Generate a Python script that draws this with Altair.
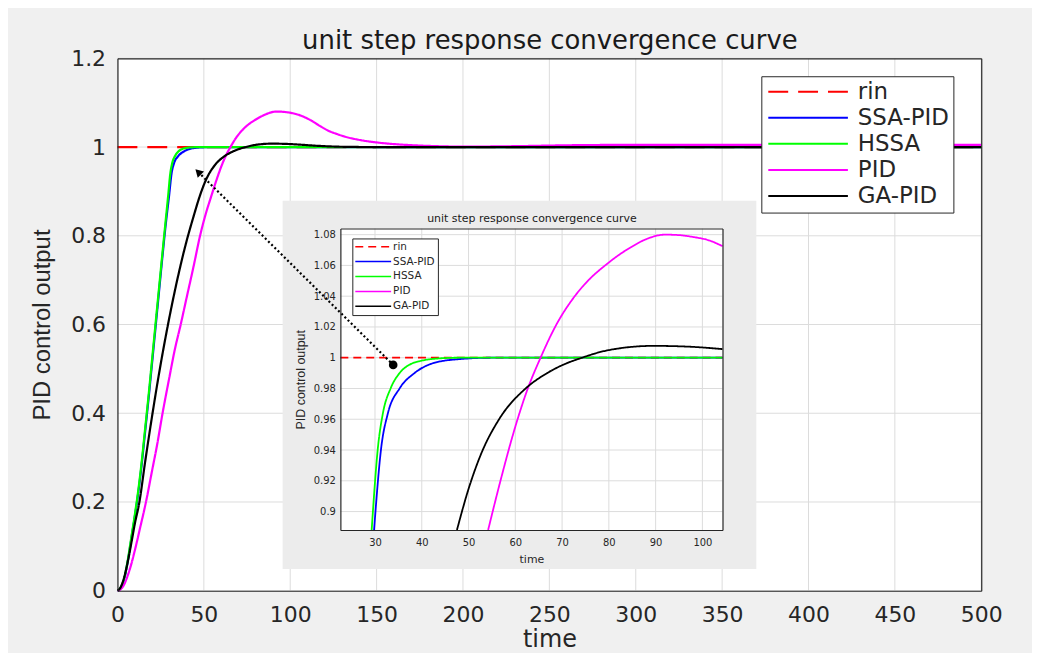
import altair as alt
import pandas as pd

# ---------------- data ----------------
series_order = ["rin", "SSA-PID", "HSSA", "PID", "GA-PID"]
series_colors = ["#ff0000", "#0000ff", "#00ff00", "#ff00ff", "#000000"]

rin_t = [0, 500]
rin_y = [1.0, 1.0]

ssa_t = [0, 2, 4, 6, 8, 10, 12, 14, 16, 18, 20, 22, 24, 26, 28, 29.8, 31.35, 32.77,
         35.25, 38.44, 41.98, 47.6, 55, 105, 500]
ssa_y = [0, 0.007, 0.028, 0.067, 0.116, 0.166, 0.22, 0.284, 0.358, 0.433, 0.512, 0.592,
         0.672, 0.752, 0.828, 0.888, 0.942, 0.964, 0.98, 0.99, 0.996, 0.999, 1.0, 1.0, 1.0]

hssa_t = [0, 2, 4, 6, 8, 10, 12, 14, 16, 18, 20, 22, 24, 26, 28, 29.29, 30.64, 31.7,
          33.33, 35.25, 37.73, 39.86, 43.4, 48, 105, 500]
hssa_y = [0, 0.008, 0.03, 0.07, 0.12, 0.17, 0.225, 0.29, 0.365, 0.44, 0.52, 0.6, 0.68,
          0.76, 0.838, 0.888, 0.942, 0.964, 0.98, 0.99, 0.996, 0.998, 0.9995, 1.0, 1.0, 1.0]

pid_t = [0, 2, 4, 6, 8, 10, 13, 16.5, 20, 23, 26.1, 30, 33, 36.6, 40, 44, 47.8, 51, 54.19,
         56.74, 60.28, 62.55, 65.4, 68.58, 72.84, 76, 79.22, 82, 84.54, 88.09, 91.99, 95,
         98, 101.5, 105, 112.5, 117, 122, 127, 131.7, 141, 151, 160, 170, 185, 200, 230,
         260, 300, 500]
pid_y = [0, 0.004, 0.015, 0.035, 0.06, 0.09, 0.14, 0.2, 0.27, 0.33, 0.4, 0.48, 0.54, 0.6,
         0.66, 0.73, 0.8, 0.848, 0.888, 0.919, 0.958, 0.979, 1.0, 1.0204, 1.0405, 1.0515,
         1.06, 1.0665, 1.0715, 1.0772, 1.08, 1.0797, 1.0785, 1.0762, 1.0725, 1.059, 1.048,
         1.037, 1.0295, 1.0235, 1.0155, 1.01, 1.0067, 1.0043, 1.002, 1.001, 1.002, 1.004,
         1.005, 1.005]

ga_t = [0, 2, 4, 6, 8, 10, 12.7, 16, 20.3, 24, 29, 34, 40, 44, 47.52, 49.93, 52.62, 56.53,
        62.2, 66.8, 71.06, 73.5, 79.57, 89.5, 97, 105, 115, 125, 140, 160, 500]
ga_y = [0, 0.009, 0.032, 0.066, 0.107, 0.15, 0.2, 0.29, 0.4, 0.488, 0.595, 0.69, 0.788,
        0.843, 0.888, 0.914, 0.937, 0.96, 0.98, 0.99, 0.9965, 0.9992, 1.0047, 1.0077,
        1.0072, 1.0056, 1.003, 1.0012, 1.0002, 1.0, 1.0]

main_x_ticks = [0, 50, 100, 150, 200, 250, 300, 350, 400, 450, 500]
main_y_ticks = [0, 0.2, 0.4, 0.6, 0.8, 1.0, 1.2]
inset_x_ticks = [30, 40, 50, 60, 70, 80, 90, 100]
inset_y_ticks = [0.9, 0.92, 0.94, 0.96, 0.98, 1.0, 1.02, 1.04, 1.06, 1.08]

# annotation arrow (main-axes coordinates): from the inset dot to the arrow head
arrow_t = [159.6, 46.7]
arrow_y = [0.509, 0.944]

# ---------------- layout ----------------
W, H = 1029, 645
MAIN_XD, MAIN_YD = [0, 500], [0, 1.2]
INS_XD, INS_YD = [22.6, 104.3], [0.888, 1.084]
MX, MY = [110, 978], [584, 49]          # main plot area (px in view)
IX, IY = [334, 718], [523, 220]         # inset plot area (px in view)
INSET_BOX = {"x0": 95.6, "x1": 369.8, "y0": 0.049, "y1": 0.879}  # main-axes coords

FONT_H = "DejaVu Sans"
FONT_V = "Liberation Sans"
TXT = "#262626"
GRID = "#dcdcdc"

mxs = alt.Scale(domain=MAIN_XD, range=MX, nice=False, zero=False)
mys = alt.Scale(domain=MAIN_YD, range=MY, nice=False, zero=False)
ixs = alt.Scale(domain=INS_XD, range=IX, nice=False, zero=False, clamp=True)
iys = alt.Scale(domain=INS_YD, range=IY, nice=False, zero=False, clamp=True)

rows = []
for name, ts, ys in zip(series_order,
                        [rin_t, ssa_t, hssa_t, pid_t, ga_t],
                        [rin_y, ssa_y, hssa_y, pid_y, ga_y]):
    for t, v in zip(ts, ys):
        rows.append({"series": name, "t": t, "value": v})
curves = pd.DataFrame(rows)


def frame_axis(orient, offset, title=None, **kw):
    return alt.Axis(orient=orient, offset=offset, labels=False, ticks=False, grid=False,
                    domainColor=TXT, domainWidth=1.2, title=title, zindex=1, **kw)


# ---------------- main axes ----------------
main_bg = alt.Chart(pd.DataFrame({"x0": [MAIN_XD[0]], "x1": [MAIN_XD[1]],
                                  "y0": [MAIN_YD[0]], "y1": [MAIN_YD[1]]})).mark_rect(
    fill="white").encode(
    x=alt.X("x0:Q", scale=mxs, axis=alt.Axis(
        orient="bottom", offset=-(H - MY[0]), values=main_x_ticks, format="d",
        ticks=False, grid=False, domainColor=TXT, domainWidth=1.2,
        labelFont=FONT_H, labelFontSize=22, labelColor=TXT, labelPadding=14,
        labelFlush=False, labelOverlap=False,
        title="time", titleFont=FONT_H, titleFontSize=24, titleFontWeight="normal",
        titleColor=TXT, titlePadding=2, zindex=1)),
    x2="x1:Q",
    y=alt.Y("y0:Q", scale=mys, axis=alt.Axis(
        orient="left", offset=-MX[0], values=main_y_ticks, format="~g",
        ticks=False, grid=False, domainColor=TXT, domainWidth=1.2,
        labelFont=FONT_H, labelFontSize=22, labelColor=TXT, labelPadding=12,
        labelFlush=False, labelOverlap=False,
        title="PID control output", titleFont=FONT_V, titleFontSize=24,
        titleFontWeight="normal", titleColor=TXT, titlePadding=16, zindex=1)),
    y2="y1:Q",
)

main_gx = alt.Chart(pd.DataFrame({"t": main_x_ticks, "lo": MAIN_YD[0], "hi": MAIN_YD[1]})).mark_rule(
    color=GRID, strokeWidth=1).encode(
    x=alt.X("t:Q", scale=mxs, axis=frame_axis(
        "top", -MY[1], title="unit step response convergence curve",
        titleFont=FONT_H, titleFontSize=26, titleFontWeight="normal",
        titleColor="#1a1a1a", titlePadding=5)),
    y=alt.Y("lo:Q", scale=mys, axis=None),
    y2="hi:Q",
)

main_gy = alt.Chart(pd.DataFrame({"v": main_y_ticks, "lo": MAIN_XD[0], "hi": MAIN_XD[1]})).mark_rule(
    color=GRID, strokeWidth=1).encode(
    y=alt.Y("v:Q", scale=mys, axis=frame_axis("right", -(W - MX[1]))),
    x=alt.X("lo:Q", scale=mxs, axis=None),
    x2="hi:Q",
)

main_legend = alt.Legend(
    orient="none", legendX=757, legendY=67, title=None,
    symbolType="M-5,0L5,0", symbolSize=256, symbolStrokeWidth=2,
    symbolOffset=31.5, labelOffset=38.5, labelFont=FONT_H, labelFontSize=23,
    labelColor=TXT, labelLimit=400, padding=4, rowPadding=2.2,
    strokeColor=TXT, fillColor="white", cornerRadius=0)

main_lines = alt.Chart(curves).mark_line(strokeWidth=2.2, interpolate="monotone").encode(
    x=alt.X("t:Q", scale=mxs, axis=None),
    y=alt.Y("value:Q", scale=mys, axis=None),
    color=alt.Color("series:N", scale=alt.Scale(domain=series_order, range=series_colors),
                    legend=main_legend),
    strokeDash=alt.StrokeDash("series:N", scale=alt.Scale(
        domain=series_order, range=[[20, 10], [1, 0], [1, 0], [1, 0], [1, 0]]),
        legend=main_legend),
)

# ---------------- inset ----------------
inset_bg = alt.Chart(pd.DataFrame([INSET_BOX])).mark_rect(fill="#ececec").encode(
    x=alt.X("x0:Q", scale=mxs, axis=None), x2="x1:Q",
    y=alt.Y("y0:Q", scale=mys, axis=None), y2="y1:Q",
)

inset_white = alt.Chart(pd.DataFrame({"x0": [INS_XD[0]], "x1": [INS_XD[1]],
                                      "y0": [INS_YD[0]], "y1": [INS_YD[1]]})).mark_rect(
    fill="white").encode(
    x=alt.X("x0:Q", scale=ixs, axis=alt.Axis(
        orient="bottom", offset=-(H - IY[0]), values=inset_x_ticks, format="d",
        ticks=False, grid=False, domainColor=TXT, domainWidth=1.2,
        labelFont=FONT_H, labelFontSize=10, labelColor=TXT, labelPadding=8,
        labelFlush=False, labelOverlap=False,
        title="time", titleFont=FONT_H, titleFontSize=11, titleFontWeight="normal",
        titleColor=TXT, titlePadding=6, zindex=1)),
    x2="x1:Q",
    y=alt.Y("y0:Q", scale=iys, axis=alt.Axis(
        orient="left", offset=-IX[0], values=inset_y_ticks, format="~g",
        ticks=False, grid=False, domainColor=TXT, domainWidth=1.2,
        labelFont=FONT_H, labelFontSize=10, labelColor=TXT, labelPadding=5,
        labelFlush=False, labelOverlap=False,
        title="PID control output", titleFont=FONT_V, titleFontSize=12.5,
        titleFontWeight="normal", titleColor=TXT, titlePadding=6, zindex=1)),
    y2="y1:Q",
)

inset_gx = alt.Chart(pd.DataFrame({"t": inset_x_ticks, "lo": INS_YD[0], "hi": INS_YD[1]})).mark_rule(
    color=GRID, strokeWidth=1).encode(
    x=alt.X("t:Q", scale=ixs, axis=frame_axis(
        "top", -IY[1], title="unit step response convergence curve",
        titleFont=FONT_H, titleFontSize=11, titleFontWeight="normal",
        titleColor="#1a1a1a", titlePadding=5)),
    y=alt.Y("lo:Q", scale=iys, axis=None),
    y2="hi:Q",
)

inset_gy = alt.Chart(pd.DataFrame({"v": inset_y_ticks, "lo": INS_XD[0], "hi": INS_XD[1]})).mark_rule(
    color=GRID, strokeWidth=1).encode(
    y=alt.Y("v:Q", scale=iys, axis=frame_axis("right", -(W - IX[1]))),
    x=alt.X("lo:Q", scale=ixs, axis=None),
    x2="hi:Q",
)

inset_legend = alt.Legend(
    orient="none", legendX=346, legendY=230, title=None,
    symbolType="M-5,0L5,0", symbolSize=51.84, symbolStrokeWidth=1.5,
    symbolOffset=12.75, labelOffset=14.75, labelFont=FONT_H, labelFontSize=10.5,
    labelColor=TXT, labelLimit=200, padding=3, rowPadding=4,
    strokeColor=TXT, fillColor="white", cornerRadius=0)

inset_lines = alt.Chart(curves).transform_filter(
    "datum.series == 'rin' || (datum.t <= 105 && datum.value >= 0.8879)"
).mark_line(strokeWidth=1.8, interpolate="monotone").encode(
    x=alt.X("t:Q", scale=ixs, axis=None),
    y=alt.Y("value:Q", scale=iys, axis=None),
    color=alt.Color("series:N", scale=alt.Scale(domain=series_order, range=series_colors),
                    legend=inset_legend),
    strokeDash=alt.StrokeDash("series:N", scale=alt.Scale(
        domain=series_order, range=[[8, 5], [1, 0], [1, 0], [1, 0], [1, 0]]),
        legend=inset_legend),
)

# ---------------- arrow annotation ----------------
arrow_df = pd.DataFrame({"t": arrow_t, "value": arrow_y})
arrow_line = alt.Chart(arrow_df).mark_line(color="black", strokeWidth=2.2,
                                           strokeDash=[2, 2.5]).encode(
    x=alt.X("t:Q", scale=mxs, axis=None),
    y=alt.Y("value:Q", scale=mys, axis=None),
)
arrow_dot = alt.Chart(arrow_df.iloc[[0]]).mark_point(
    shape="circle", filled=True, color="black", size=75, opacity=1).encode(
    x=alt.X("t:Q", scale=mxs, axis=None),
    y=alt.Y("value:Q", scale=mys, axis=None),
)
arrow_head = alt.Chart(arrow_df.iloc[[1]]).mark_point(
    shape="triangle-up", filled=True, color="black", size=80, angle=315, opacity=1).encode(
    x=alt.X("t:Q", scale=mxs, axis=None),
    y=alt.Y("value:Q", scale=mys, axis=None),
)

chart = alt.layer(
    main_bg, main_gx, main_gy, main_lines,
    inset_bg, inset_white, inset_gx, inset_gy, inset_lines,
    arrow_line, arrow_dot, arrow_head,
).resolve_scale(
    x="independent", y="independent", color="independent", strokeDash="independent"
).properties(
    width=W, height=H, background="#f0f0f0", padding=0,
    autosize=alt.AutoSizeParams(type="none"),
).configure_view(stroke=None)

chart.save("out.html", embed_options={"renderer": "svg", "actions": False})
